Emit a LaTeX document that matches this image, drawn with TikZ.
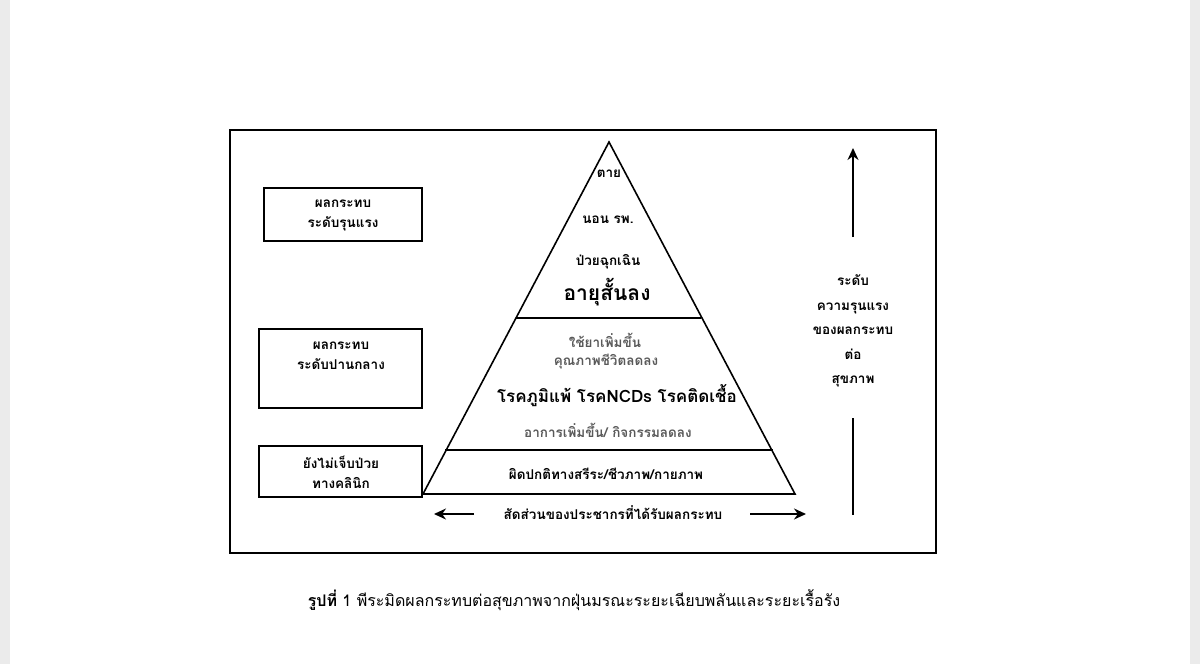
\documentclass[tikz,border=0pt]{standalone}
\usepackage{fontspec}
\setmainfont[Script=Thai]{Loma}
\usetikzlibrary{positioning, arrows.meta}
\tikzset{
  box/.style={draw, line width=1.6pt},
  txt/.style={font=\fontsize{13.5}{20}\selectfont\bfseries, align=center, inner sep=1pt},
  soft/.style={txt, text=black!65},
  arr/.style={-{Stealth[length=12pt,width=11pt]}, line width=1.8pt},
}
\begin{document}
\begin{tikzpicture}[x=1pt, y=-1pt]
  % page
  \fill[black!8] (0,0) rectangle (1200,664);
  \fill[white] (10,0) rectangle (1190,664);
  \useasboundingbox (0,0) rectangle (1200,664);
  \draw[box] (230,130) rectangle (936,553);

  % pyramid
  \coordinate (top) at (609,142);
  \coordinate (bl) at (423,494);
  \coordinate (br) at (795,494);
  \draw[line width=1.6pt, line join=miter] (top) -- (bl) -- (br) -- cycle;
  \draw[line width=1.6pt] (516,318) -- (701,318);
  \draw[line width=1.6pt] (445,450) -- (773,450);

  \node[txt] (die) at (609,174) {ตาย};
  \node[txt] (hosp) at (608,220) {นอน รพ.};
  \node[txt] (emerg) at (608,262) {ป่วยฉุกเฉิน};
  \node[txt, font=\fontsize{21}{23}\selectfont\bfseries] (life) at (607,292) {อายุสั้นลง};
  \node[soft] (drug) at (605,340) {ใช้ยาเพิ่มขึ้น};
  \node[soft] (qol) at (606,362) {คุณภาพชีวิตลดลง};
  \node[txt, font=\fontsize{17}{19}\selectfont\bfseries] (dis) at (617,396) {โรคภูมิแพ้ โรคNCDs โรคติดเชื้อ};
  \node[soft] (symp) at (608,430) {อาการเพิ่มขึ้น/ กิจกรรมลดลง};
  \node[txt] (abn) at (606,474) {ผิดปกติทางสรีระ/ชีวภาพ/กายภาพ};
  \node[txt] (prop) at (613,513) {สัดส่วนของประชากรที่ได้รับผลกระทบ};
  \coordinate (pl) at (474,514);
  \coordinate (pr) at (750,514);
  \draw[arr] (pl) -- ++(-40,0);
  \draw[arr] (pr) -- ++(56,0);

  % left boxes
  \draw[box] (264,188) rectangle (422,241);
  \node[txt] (sev) at (343,215) {ผลกระทบ\\ระดับรุนแรง};
  \draw[box] (259,329) rectangle (422,408);
  \node[txt] (mod) at (341,356) {ผลกระทบ\\ระดับปานกลาง};
  \draw[box] (259,446) rectangle (422,497);
  \node[txt] (sub) at (341,472) {ยังไม่เจ็บป่วย\\ทางคลินิก};

  % right scale
  \node[txt, font=\fontsize{13.5}{24.5}\selectfont\bfseries] (scale) at (853,331)
    {ระดับ\\ความรุนแรง\\ของผลกระทบ\\ต่อ\\สุขภาพ};
  \coordinate (up) at (853,237);
  \coordinate (dn) at (853,418);
  \draw[arr] (up) -- ++(0,-89);
  \draw[line width=1.8pt] (dn) -- ++(0,97);

  % caption
  \node[font=\fontsize{16}{18}\selectfont, inner sep=0] (cap) at (574,600)
    {\textbf{รูปที่} 1 พีระมิดผลกระทบต่อสุขภาพจากฝุ่นมรณะระยะเฉียบพลันและระยะเรื้อรัง};
\end{tikzpicture}
\end{document}
